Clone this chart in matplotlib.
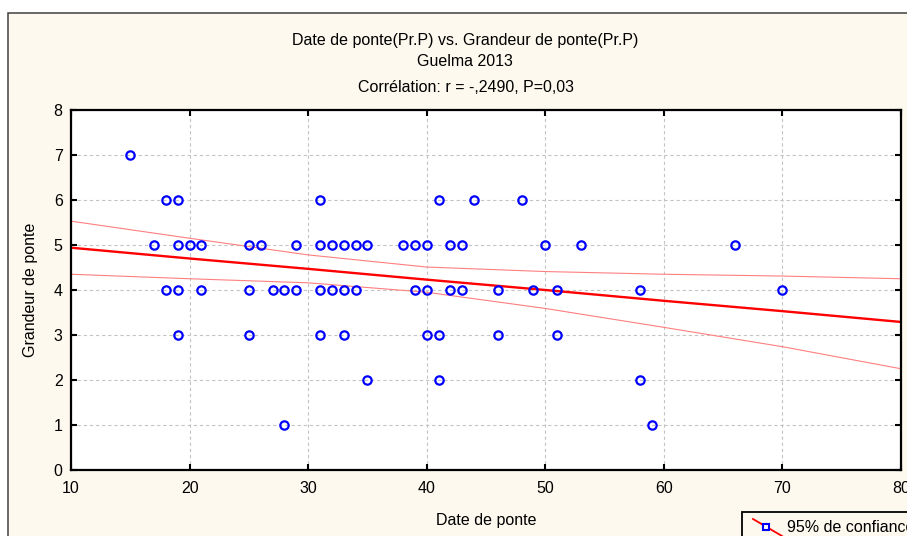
import numpy as np
import matplotlib.pyplot as plt
from matplotlib.patches import Rectangle
from matplotlib.lines import Line2D

plt.rcParams['font.family'] = ['Liberation Sans', 'DejaVu Sans']

# Date de ponte relevée pour chaque grandeur de ponte
dates_g7 = [15]
dates_g6 = [18, 19, 31, 41, 44, 48]
dates_g5 = [17, 19, 20, 21, 25, 26, 29, 31, 32, 33, 34, 35, 38, 39, 40, 42, 43, 50, 53, 66]
dates_g4 = [18, 19, 21, 25, 27, 28, 29, 31, 32, 33, 34, 39, 40, 42, 43, 46, 49, 51, 58, 70]
dates_g3 = [19, 25, 31, 33, 40, 41, 46, 51]
dates_g2 = [35, 41, 58]
dates_g1 = [28, 59]

# droite de régression et bornes de l'IC 95%
band_x = [10, 20, 30, 40, 50, 60, 70, 80]
fit_y = [4.94, 4.70, 4.47, 4.23, 4.00, 3.76, 3.53, 3.29]
upper_y = [5.53, 5.15, 4.78, 4.51, 4.41, 4.35, 4.31, 4.25]
lower_y = [4.35, 4.25, 4.16, 3.95, 3.59, 3.17, 2.74, 2.25]

groups = [(7, dates_g7), (6, dates_g6), (5, dates_g5), (4, dates_g4),
          (3, dates_g3), (2, dates_g2), (1, dates_g1)]
x = np.concatenate([np.array(d, float) for g, d in groups])
y = np.concatenate([np.full(len(d), g, float) for g, d in groups])

W, H = 907, 536
cream = '#FDF9EE'


def px(a, b):
    return a / W, 1 - b / H


fig = plt.figure(figsize=(W / 100, H / 100), dpi=100, facecolor='white')
fig.add_artist(Rectangle(px(8.3, 560), 1.2, (560 - 13.3) / H,
                         facecolor=cream, edgecolor='#404040', lw=1.1,
                         zorder=-5))

ax = fig.add_axes([71 / W, 1 - 470 / H, 830 / W, 360 / H])
ax.set_facecolor('white')

ax.grid(True, color='#c4c4c4', ls=(0, (3, 2.5)), lw=0.8)
ax.set_axisbelow(True)

ax.plot(band_x, upper_y, color='#ff7f7f', lw=0.8)
ax.plot(band_x, lower_y, color='#ff7f7f', lw=0.8)
ax.plot(band_x, fit_y, color='#ff0000', lw=1.7)
ax.plot(x, y, 'o', ls='none', ms=6, mfc='none', mec='#0000ff', mew=1.6)

ax.set_xlim(10, 80)
ax.set_ylim(0, 8)
ax.set_xticks(range(10, 81, 10))
ax.set_yticks(range(0, 9))
for s in ax.spines.values():
    s.set_linewidth(1.6)
    s.set_color('black')
ax.tick_params(axis='both', direction='in', length=4, width=1.5,
               top=True, right=True, labelsize=11.5)
ax.tick_params(axis='x', pad=8)
ax.tick_params(axis='y', pad=6)

fig.text(*px(465, 41), 'Date de ponte(Pr.P) vs. Grandeur de ponte(Pr.P)',
         ha='center', va='center', fontsize=11.5)
fig.text(*px(465, 61), 'Guelma 2013', ha='center', va='center', fontsize=11.5)
fig.text(*px(466, 88), 'Corrélation: r = -,2490, P=0,03',
         ha='center', va='center', fontsize=11.5)
fig.text(*px(31, 290), 'Grandeur de ponte', rotation=90,
         ha='center', va='center', fontsize=11.5)
fig.text(*px(486, 521), 'Date de ponte', ha='center', va='center', fontsize=11.5)

# légende (coupée par le bord)
fig.add_artist(Rectangle(px(742, 560), 300 / W, 48 / H,
                         facecolor=cream, edgecolor='black', lw=1.3))
fig.add_artist(Line2D([753 / W, 782 / W], [1 - 519 / H, 1 - 536 / H],
                      color='#ff0000', lw=1.3))
fig.add_artist(Line2D([766 / W], [1 - 527 / H], marker='s', ms=5,
                      mfc='white', mec='#0000ff', mew=1.5, ls='none'))
fig.text(*px(787, 528), '95% de confiance', ha='left', va='center',
         fontsize=11.5)

fig.savefig('out.png', dpi=100, facecolor='white')
